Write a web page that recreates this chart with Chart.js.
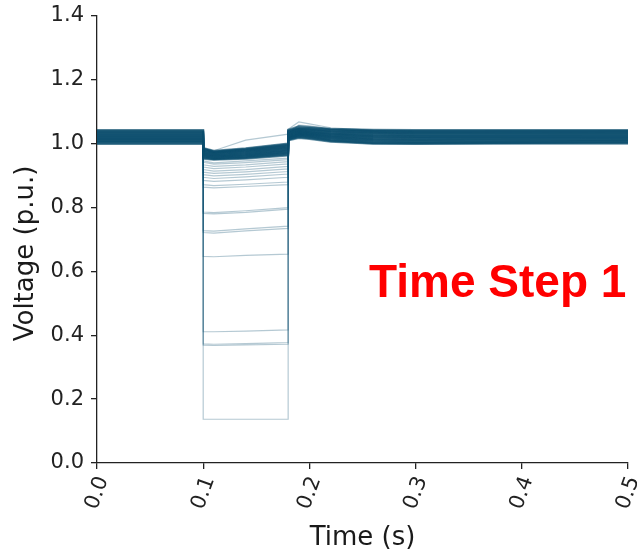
<!DOCTYPE html>
<html>
<head>
<meta charset="utf-8">
<script src="https://cdn.jsdelivr.net/npm/chart.js@4.4.1/dist/chart.umd.min.js"></script>
<style>
  html, body { margin: 0; padding: 0; background: #ffffff; }
  #wrap { width: 637px; height: 551px; }
</style>
</head>
<body>
<div id="wrap"><canvas id="voltageChart" width="637" height="551"></canvas></div>
<script>
// sample times (s); fault applied at 0.1 s and cleared at 0.18 s
const times = [0, 0.1, 0.1, 0.11, 0.14, 0.18, 0.18, 0.19, 0.2, 0.22, 0.26, 0.3, 0.5];

// buses that stay close to nominal during the fault
const strongBuses = [
  [1.043, 1.043, 0.987, 0.978, 0.986, 1.001, 1.044, 1.055, 1.052, 1.047, 1.044, 1.043, 1.043],
  [1.041, 1.041, 0.985, 0.976, 0.984, 0.999, 1.042, 1.050, 1.049, 1.045, 1.042, 1.041, 1.041],
  [1.039, 1.039, 0.984, 0.975, 0.983, 0.997, 1.040, 1.048, 1.047, 1.043, 1.040, 1.039, 1.040],
  [1.037, 1.037, 0.982, 0.974, 0.981, 0.996, 1.039, 1.047, 1.045, 1.041, 1.038, 1.037, 1.037],
  [1.035, 1.035, 0.981, 0.973, 0.980, 0.994, 1.037, 1.045, 1.044, 1.040, 1.037, 1.036, 1.036],
  [1.033, 1.033, 0.979, 0.972, 0.979, 0.992, 1.036, 1.044, 1.042, 1.038, 1.035, 1.034, 1.034],
  [1.031, 1.031, 0.978, 0.971, 0.977, 0.991, 1.034, 1.042, 1.041, 1.036, 1.033, 1.032, 1.032],
  [1.029, 1.029, 0.976, 0.969, 0.976, 0.989, 1.033, 1.041, 1.039, 1.034, 1.031, 1.030, 1.030],
  [1.027, 1.027, 0.975, 0.968, 0.974, 0.987, 1.031, 1.039, 1.037, 1.032, 1.029, 1.028, 1.028],
  [1.025, 1.025, 0.973, 0.967, 0.973, 0.986, 1.030, 1.038, 1.036, 1.031, 1.027, 1.026, 1.026],
  [1.023, 1.023, 0.972, 0.965, 0.971, 0.984, 1.028, 1.036, 1.034, 1.029, 1.025, 1.024, 1.024],
  [1.021, 1.021, 0.970, 0.964, 0.970, 0.982, 1.027, 1.035, 1.033, 1.027, 1.023, 1.022, 1.022],
  [1.019, 1.019, 0.969, 0.963, 0.968, 0.981, 1.025, 1.033, 1.031, 1.025, 1.021, 1.020, 1.020],
  [1.017, 1.017, 0.967, 0.961, 0.967, 0.979, 1.024, 1.032, 1.030, 1.024, 1.019, 1.018, 1.018],
  [1.015, 1.015, 0.966, 0.960, 0.965, 0.977, 1.022, 1.030, 1.028, 1.022, 1.017, 1.016, 1.016],
  [1.013, 1.013, 0.964, 0.959, 0.964, 0.976, 1.021, 1.029, 1.027, 1.020, 1.015, 1.014, 1.014],
  [1.011, 1.011, 0.963, 0.957, 0.962, 0.974, 1.019, 1.027, 1.025, 1.018, 1.013, 1.012, 1.012],
  [1.009, 1.009, 0.961, 0.956, 0.961, 0.972, 1.018, 1.026, 1.023, 1.016, 1.011, 1.010, 1.010],
  [1.007, 1.007, 0.960, 0.955, 0.959, 0.971, 1.016, 1.024, 1.022, 1.014, 1.009, 1.008, 1.008],
  [1.005, 1.005, 0.958, 0.953, 0.958, 0.969, 1.015, 1.023, 1.020, 1.012, 1.007, 1.006, 1.006],
  [1.003, 1.003, 0.957, 0.952, 0.956, 0.967, 1.013, 1.021, 1.018, 1.010, 1.004, 1.004, 1.004],
  [1.001, 1.001, 0.955, 0.951, 0.955, 0.965, 1.012, 1.020, 1.017, 1.008, 1.002, 1.002, 1.002],
  [0.999, 0.999, 0.953, 0.950, 0.953, 0.963, 1.010, 1.018, 1.015, 1.006, 1.000, 1.000, 1.000]
];

// buses with a deeper sag during the fault
const weakBuses = [
  [1.036, 1.036, 0.985, 0.978, 1.011, 1.030, 1.045, 1.068, 1.062, 1.050, 1.042, 1.040, 1.040],
  [1.030, 1.030, 0.942, 0.936, 0.941, 0.950, 1.030, 1.058, 1.056, 1.046, 1.036, 1.032, 1.031],
  [1.022, 1.022, 0.934, 0.929, 0.934, 0.944, 1.025, 1.040, 1.038, 1.030, 1.022, 1.020, 1.021],
  [1.038, 1.038, 0.946, 0.940, 0.946, 0.955, 1.040, 1.052, 1.050, 1.044, 1.040, 1.039, 1.039],
  [1.015, 1.015, 0.927, 0.922, 0.927, 0.937, 1.020, 1.033, 1.030, 1.020, 1.008, 1.004, 1.012],
  [1.008, 1.008, 0.919, 0.914, 0.919, 0.929, 1.015, 1.028, 1.024, 1.012, 1.001, 0.999, 1.006],
  [1.040, 1.040, 0.911, 0.907, 0.912, 0.921, 1.040, 1.055, 1.052, 1.045, 1.041, 1.040, 1.040],
  [1.026, 1.026, 0.903, 0.899, 0.904, 0.913, 1.028, 1.040, 1.038, 1.030, 1.025, 1.026, 1.026],
  [1.012, 1.012, 0.895, 0.891, 0.896, 0.905, 1.018, 1.030, 1.027, 1.016, 1.004, 1.001, 1.010],
  [1.034, 1.034, 0.885, 0.882, 0.887, 0.895, 1.035, 1.047, 1.045, 1.038, 1.034, 1.034, 1.034],
  [1.018, 1.018, 0.872, 0.869, 0.873, 0.880, 1.022, 1.035, 1.032, 1.022, 1.014, 1.013, 1.017],
  [1.005, 1.005, 0.864, 0.862, 0.866, 0.872, 1.012, 1.025, 1.021, 1.008, 0.999, 0.998, 1.003],
  [1.020, 1.020, 0.786, 0.784, 0.790, 0.800, 1.025, 1.038, 1.034, 1.024, 1.016, 1.015, 1.019],
  [1.010, 1.010, 0.782, 0.780, 0.785, 0.795, 1.016, 1.030, 1.026, 1.012, 1.002, 1.000, 1.008],
  [1.028, 1.028, 0.728, 0.726, 0.733, 0.742, 1.032, 1.045, 1.042, 1.033, 1.027, 1.027, 1.028],
  [1.016, 1.016, 0.722, 0.720, 0.727, 0.735, 1.020, 1.033, 1.030, 1.020, 1.012, 1.011, 1.015],
  [1.024, 1.024, 0.647, 0.646, 0.650, 0.654, 1.028, 1.042, 1.038, 1.028, 1.022, 1.022, 1.023],
  [1.013, 1.013, 0.411, 0.411, 0.413, 0.417, 1.018, 1.031, 1.028, 1.017, 1.006, 1.004, 1.011],
  [1.032, 1.032, 0.373, 0.372, 0.374, 0.377, 1.035, 1.050, 1.047, 1.038, 1.032, 1.032, 1.032],
  [1.007, 1.007, 0.369, 0.368, 0.370, 0.372, 1.013, 1.027, 1.023, 1.010, 1.000, 0.999, 1.005],
  [1.021, 1.021, 0.137, 0.137, 0.137, 0.137, 1.024, 1.036, 1.034, 1.025, 1.020, 1.020, 1.021]
];

const xTicks = [0, 0.1, 0.2, 0.3, 0.4, 0.5];
const yTicks = [0, 0.2, 0.4, 0.6, 0.8, 1.0, 1.2, 1.4];
const xTitle = 'Time (s)';
const yTitle = 'Voltage (p.u.)';
const stepLabel = 'Time Step 1';

const lineColor = '10, 77, 108';
const axisColor = '#222222';

function toPoints(trace) {
  return times.map((t, i) => ({ x: t, y: trace[i] }));
}

const datasets = [];
strongBuses.forEach(trace => {
  datasets.push({
    data: toPoints(trace),
    borderColor: `rgba(${lineColor}, 0.6)`,
    borderWidth: 2
  });
});
weakBuses.forEach(trace => {
  datasets.push({
    data: toPoints(trace),
    borderColor: `rgba(${lineColor}, 0.3)`,
    borderWidth: 1.2
  });
});

// axis titles and the step label drawn on top of the plot
const labelPlugin = {
  id: 'labelPlugin',
  afterDraw(chart) {
    const ctx = chart.ctx;
    const area = chart.chartArea;
    ctx.save();
    ctx.fillStyle = '#1a1a1a';
    ctx.font = '26px "DejaVu Sans"';
    ctx.textAlign = 'center';
    ctx.textBaseline = 'alphabetic';
    ctx.fillText(xTitle, (area.left + area.right) / 2, 545);

    ctx.translate(33, (area.top + area.bottom) / 2 + 14);
    ctx.rotate(-Math.PI / 2);
    ctx.fillText(yTitle, 0, 0);
    ctx.restore();

    ctx.save();
    ctx.fillStyle = '#ff0000';
    ctx.font = 'bold 46px "Liberation Sans"';
    ctx.textAlign = 'left';
    ctx.textBaseline = 'alphabetic';
    ctx.fillText(stepLabel, 369, 297);
    ctx.restore();
  }
};

const tickFont = { family: 'DejaVu Sans', size: 21 };

new Chart(document.getElementById('voltageChart'), {
  type: 'line',
  data: { datasets: datasets },
  options: {
    responsive: false,
    animation: false,
    events: [],
    layout: { padding: { top: 16, right: 9, left: 0, bottom: 0 } },
    elements: {
      point: { radius: 0 },
      line: { tension: 0, borderCapStyle: 'butt', borderJoinStyle: 'miter' }
    },
    plugins: {
      legend: { display: false },
      tooltip: { enabled: false }
    },
    scales: {
      x: {
        type: 'linear',
        min: 0,
        max: 0.5,
        afterFit: scale => {
          scale.height = 88;
          scale.paddingLeft = 0;
          scale.paddingRight = 0;
        },
        afterBuildTicks: scale => { scale.ticks = xTicks.map(v => ({ value: v })); },
        border: { color: axisColor, width: 1.3 },
        grid: { drawOnChartArea: false, drawTicks: true, tickLength: 6, color: axisColor, lineWidth: 1.3 },
        ticks: {
          font: tickFont,
          color: axisColor,
          minRotation: 70,
          maxRotation: 70,
          padding: 4,
          labelOffset: 6,
          callback: v => v.toFixed(1)
        }
      },
      y: {
        min: 0,
        max: 1.4,
        afterFit: scale => {
          scale.width = 97;
          scale.paddingTop = 0;
          scale.paddingBottom = 0;
        },
        afterBuildTicks: scale => { scale.ticks = yTicks.map(v => ({ value: v })); },
        border: { color: axisColor, width: 1.3 },
        grid: { drawOnChartArea: false, drawTicks: true, tickLength: 6, color: axisColor, lineWidth: 1.3 },
        ticks: {
          font: tickFont,
          color: axisColor,
          padding: 7,
          callback: v => v.toFixed(1)
        }
      }
    }
  },
  plugins: [labelPlugin]
});
</script>
</body>
</html>
